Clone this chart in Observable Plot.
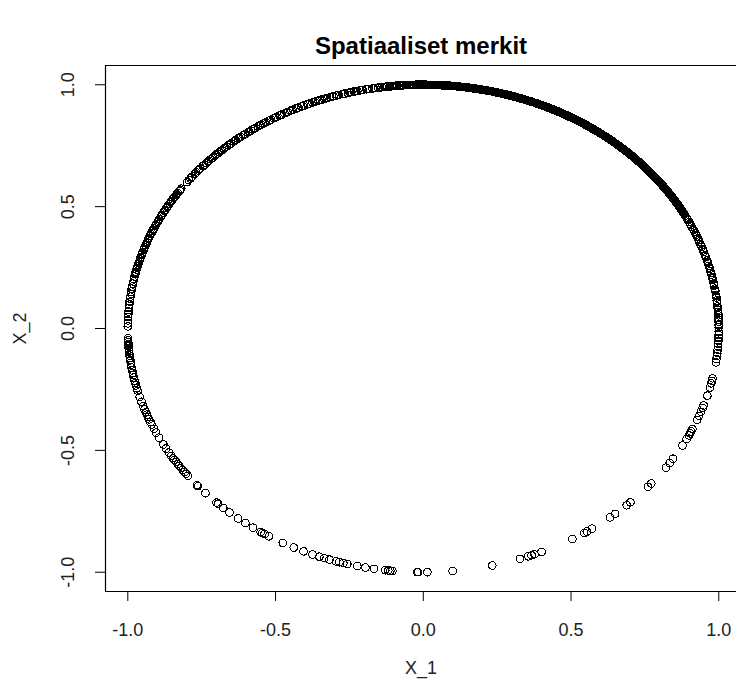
<!DOCTYPE html>
<html>
<head>
<meta charset="utf-8">
<script src="https://cdn.jsdelivr.net/npm/d3@7"></script>
<script src="https://cdn.jsdelivr.net/npm/@observablehq/plot@0.6"></script>
<style>
  html, body { margin: 0; padding: 0; background: #fff; }
  #chart svg { display: block; }
</style>
</head>
<body>
<div id="chart"></div>
<script>
// Spatial signs lie on the unit circle; each point's direction (degrees).
const angleRightLower = [0.3,0.7,1.0,1.6,2.0,2.5,3.1,3.5,3.9,4.4,4.8,5.2,6.0,6.3,6.6,7.3,7.6,7.9,8.8,9.1,9.4,10.1,10.4,10.7,11.5,11.9,12.2,12.8,13.2,13.6,14.1,14.5,14.9,15.6,15.9,16.2,17.0,17.3,17.5,18.3,18.7,19.0,19.6,19.9,20.3,20.9,21.3,21.6,22.2,22.6,22.9,23.4,23.8,24.1,24.7,25.2,25.5,25.9,26.4,26.7,27.0,27.6,27.9];
const angleDense = [28.1,28.5,28.8,29.2,29.5,29.9,30.2,30.6,30.9,31.3,31.7,32.0,32.4,32.7,33.1,33.4,33.8,34.1,34.5,34.9,35.2,35.6,35.9,36.3,36.6,37.0,37.4,37.7,38.1,38.4,38.8,39.2,39.5,39.8,40.2,40.6,40.9,41.3,41.6,42.0,42.4,42.7,43.0,43.4,43.8,44.1,44.5,44.8,45.2,45.6,45.9,46.2,46.6,47.0,47.3,47.7,48.0,48.4,48.7,49.1,49.5,49.8,50.1,50.5,50.9,51.2,51.6,51.9,52.3,52.6,53.0,53.4,53.7,54.0,54.4,54.8,55.1,55.5,55.8,56.2,56.5,56.9,57.3,57.6,57.9,58.3,58.7,59.0,59.4,59.7,60.1,60.4,60.8,61.2,61.5,61.8,62.2,62.6,62.9,63.3,63.6,64.0,64.3,64.7,65.1,65.4,65.7,66.1,66.5,66.8,67.2,67.5,67.9,68.2,68.6,69.0,69.3,69.6,70.0,70.4,70.7,71.1,71.4,71.8,72.1,72.5,72.9,73.2,73.5,73.9,74.3,74.6,75.0,75.3,75.7,76.1,76.4,76.8,77.1,77.5,77.9,78.2,78.6,78.9,79.3,79.7,80.0,80.4,80.7,81.1,81.5,81.8,82.2,82.5,82.9,83.3,83.6,84.0,84.3,84.7,85.1,85.4,85.8,86.2,86.5,86.9,87.3,87.6,88.0,88.4,88.9,89.3,89.7,90.1,90.5,90.9,91.3,91.8,92.2,92.7,93.4,93.8,94.3,94.7,95.2,95.6,96.0,96.5];
const angleDense2 = [28.3,28.7,29.0,29.4,29.7,30.0,30.4,30.8,31.1,31.5,31.9,32.2,32.6,32.9,33.3,33.6,34.0,34.3,34.7,35.1,35.4,35.8,36.1,36.5,36.8,37.2,37.6,37.9,38.3,38.6,39.0,39.4,39.7,40.0,40.4,40.8,41.1,41.5,41.8,42.2,42.6,42.9,43.2,43.6,44.0,44.3,44.7,45.0,45.4,45.8,46.1,46.4,46.8,47.2,47.5,47.9,48.2,48.6,48.9,49.3,49.7,50.0,50.3,50.7,51.1,51.4,51.8,52.1,52.5,52.8,53.2,53.6,53.9,54.2,54.6,55.0,55.3,55.7,56.0,56.4,56.7,57.1,57.5,57.8,58.1,58.5,58.9,59.2,59.6,59.9,60.3,60.6,61.0,61.4,61.7,62.0,62.4,62.8,63.1,63.5,63.8,64.2,64.5,64.9,65.3,65.6,65.9,66.3,66.7,67.0,67.4,67.7,68.1,68.4,68.8,69.2,69.5,69.8,70.2,70.6,70.9,71.3,71.6,72.0,72.3,72.7,73.1,73.4,73.7,74.1,74.5,74.8,75.2,75.5,75.9,76.3,76.6,77.0,77.3,77.7,78.1,78.4,78.8,79.1,79.5,79.9,80.2,80.6,80.9,81.3,81.7,82.0,82.4,82.7,83.1,83.5,83.8,84.2,84.5,84.9,85.3,85.6,86.0,86.4,86.7,87.1,87.5,87.8,88.2,89.1,89.5,89.9,90.3,90.7,91.1,91.5,92.0,92.4,93.8,94.0,94.5,95.0,95.4,95.8,96.2];
const angleUpperLeft = [97.0,97.3,97.6,98.1,98.4,98.8,99.3,99.6,99.9,100.6,100.9,101.1,101.8,102.0,102.3,102.9,103.2,103.6,104.1,104.4,104.8,105.4,105.6,105.9,106.6,106.9,107.2,107.7,108.0,108.4,109.0,109.3,109.6,110.1,110.4,110.8,111.3,111.6,112.0,112.6,112.9,113.1,113.8,114.1,114.4,115.0,115.2,115.5,116.2,116.5,116.8,117.3,117.6,118.0,118.6,118.9,119.1,119.8,120.1,120.4,121.0,121.3,121.5,122.2,122.5,122.8,123.3,123.6,124.0,124.6,124.9,125.2,125.7,126.1,126.4,127.0,127.2,127.5,128.2,128.5,128.8,129.4,129.6,129.9,130.6,130.9,131.2,131.7,132.1,132.4,133.0,133.3,133.6,134.1,134.5,134.8,135.4,135.7,136.0,136.5,136.8,137.2,137.8,138.1,138.3,139.0,139.3,139.6,140.2,140.5,140.7,141.4,141.7,142.0,142.5,143.1,145.0,145.3,145.6,146.2,146.5,146.8,147.4,147.7,148.0,148.5,148.8,149.2,149.8,150.1,150.4,150.9,151.2,151.6,152.2,152.5,152.7,153.4,153.7,154.0,154.6,154.9,155.1,155.8,156.1,156.4,156.9,157.2,157.6,158.2,158.5,158.8,159.3,159.6,160.0,160.6,160.9,161.1,161.8,162.1,162.4,163.0,163.2,163.5,164.2,164.5,164.8,165.3,165.6,166.0,166.6,166.9,167.1,167.7];
const angleLeft = [168.3,168.9,169.4,170.1,170.6,171.3,171.8,172.5,173.0,173.7,174.4,175.2,176.0,176.6,177.3,178.1,178.8,179.5,182.3,182.8,183.2,183.7,184.1,184.6,185.0,185.5,186.0,186.4,186.9,187.5,188.1,188.6,189.2,189.9,190.5,191.0,191.6,192.3,192.9,193.5,194.2,194.8,196.3,197.5,198.6,199.4,200.1,200.7,201.3,201.9,202.6,203.2,204.3,205.3,206.6,208.4,209.5,210.6,211.5,212.1,212.6,213.2,213.8,214.3,214.9,215.5,216.1,216.6,217.2];
const angleSparse = [220.0,220.3,222.5,225.6,226.0,227.4,229.0,231.2,233.0,234.8,236.6,237.0,237.5,238.5,241.6,244.0,246.1,248.0,249.4,250.4,251.5,252.8,253.5,254.3,255.1,257.1,258.7,260.4,262.6,263.2,263.6,264.0,268.8,269.0,270.8,275.7,283.5,289.1,290.8,291.5,292.1,293.6,300.3,303.0,303.6,304.8,309.2,310.5,313.5,314.5,319.5,320.5,325.2,326.5,327.7,331.3,333.0,334.0,334.5,335.0,335.6,338.0,339.0,340.0,341.0,341.6,344.0,346.0,347.0,347.6,348.2,352.0,352.8,353.5,354.2,355.0,355.7,356.4,357.1,357.8,358.5,359.2];

const xTicks = [-1.0, -0.5, 0.0, 0.5, 1.0];
const yTicks = [-1.0, -0.5, 0.0, 0.5, 1.0];
const titleText = "Spatiaaliset merkit";
const xLabel = "X_1";
const yLabel = "X_2";

const angles = [...angleRightLower, ...angleDense, ...angleDense2, ...angleUpperLeft, ...angleLeft, ...angleSparse];
const points = angles.map(a => ({X_1: Math.cos(a * Math.PI / 180), X_2: Math.sin(a * Math.PI / 180)}));

const xDomain = [-1.0755, 1.06];
const yDomain = [-1.079, 1.079];
const fmt = d => d.toFixed(1);
const font = "'Liberation Sans', Arial, sans-serif";

const chart = Plot.plot({
  width: 736,
  height: 686,
  marginTop: 65,
  marginBottom: 95,
  marginLeft: 105,
  marginRight: 0,
  style: {fontFamily: font, fontSize: "18px", background: "#fff", color: "#000", overflow: "visible"},
  x: {domain: xDomain, label: null},
  y: {domain: yDomain, label: null},
  marks: [
    Plot.axisX({ticks: xTicks, tickSize: 10, tickFormat: () => "", label: null, stroke: "#000"}),
    Plot.axisY({ticks: yTicks, tickSize: 10, tickFormat: () => "", label: null, stroke: "#000"}),
    Plot.text(xTicks, {x: d => d, text: fmt, frameAnchor: "bottom", dy: 39, lineAnchor: "middle", fontSize: 18, fill: "#222"}),
    Plot.text(yTicks, {y: d => d, text: fmt, frameAnchor: "left", dx: -37, rotate: -90, textAnchor: "middle", lineAnchor: "middle", fontSize: 18, fill: "#222"}),
    Plot.ruleY([yDomain[0], yDomain[1]], {stroke: "#000", strokeWidth: 1.2}),
    Plot.ruleX([xDomain[0]], {stroke: "#000", strokeWidth: 1.2}),
    Plot.dot(points, {x: "X_1", y: "X_2", r: 3.8, stroke: "#000", strokeWidth: 1.1, fill: "none", shapeRendering: "crispEdges"}),
    Plot.text([titleText], {frameAnchor: "top", dy: -19, fontWeight: "bold", fontSize: 24, fill: "#000", lineAnchor: "middle"}),
    Plot.text([xLabel], {frameAnchor: "bottom", dy: 77, fontSize: 18, fill: "#222", lineAnchor: "middle"}),
    Plot.text([yLabel], {frameAnchor: "left", dx: -85, rotate: -90, fontSize: 18, fill: "#222", lineAnchor: "middle", textAnchor: "middle"})
  ]
});
document.getElementById("chart").appendChild(chart);
</script>
</body>
</html>
